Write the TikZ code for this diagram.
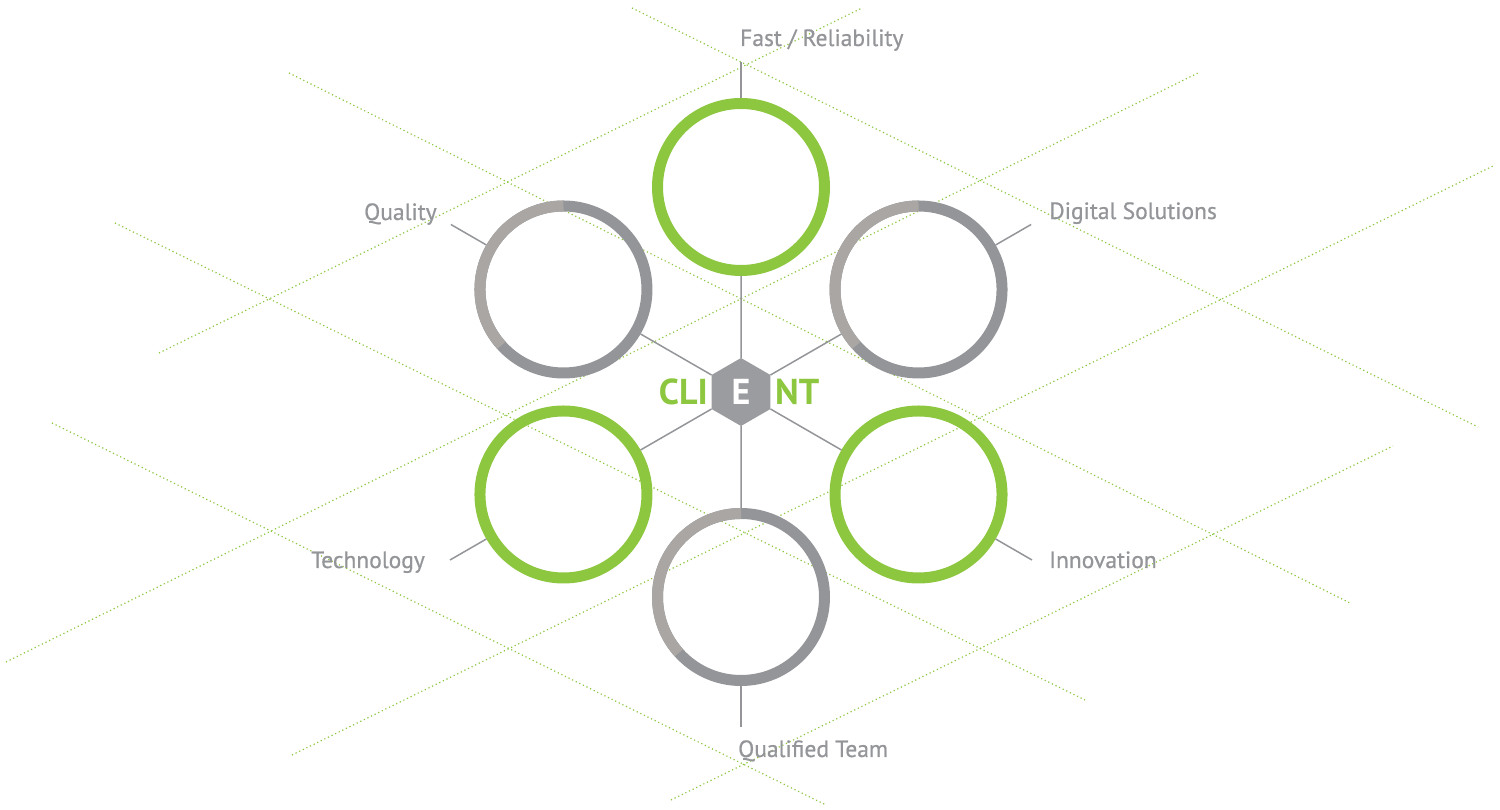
\documentclass[tikz,border=0pt]{standalone}
\usepackage{fontspec}
\setmainfont{PT Sans}
\newfontfamily\labelfont[FakeBold=0.7]{PT Sans}
\usetikzlibrary{positioning, shapes.geometric, calc}

\definecolor{leaf}{HTML}{8DC63F}
\definecolor{steel}{HTML}{939598}
\definecolor{ash}{HTML}{A9A6A4}
\definecolor{hexgray}{HTML}{9B9C9F}

\tikzset{
  ring/.style={circle, draw=#1, line width=11pt, minimum size=167pt, inner sep=0pt, outer sep=0pt},
  spoke/.style={draw=steel, line width=1.5pt},
  dotline/.style={leaf, line width=1.2pt, dash pattern=on 1.2pt off 2.8pt},
  lbl/.style={text=steel, inner sep=0pt, font=\labelfont\fontsize{23.5}{28}\selectfont},
  client/.style={text=leaf, inner sep=0pt, font=\fontsize{36}{40}\selectfont\bfseries},
}

\begin{document}
\begin{tikzpicture}[x=1pt, y=1pt]
\useasboundingbox (0,0) rectangle (1500,810);

% dotted guide lines in the background
\foreach \xa/\ya/\xb/\yb in {632/802/1478/383, 289/737/1350/207, 115/587/1085/110, 52/387/826/5,
                             159/457/862/802, 6/148/1200/738, 292/55/1495/645, 671/10/1393/364}
  \draw[dotline] (\xa,\ya) -- (\xb,\yb);

% centre hexagon
\node[regular polygon, regular polygon sides=6, shape border rotate=30, fill=hexgray,
      minimum size=68pt, inner sep=0pt, outer sep=0pt, client, text=white] (hex) at (741,418) {E};
\node[client, left=3.5pt of hex] (cli) {CLI};
\node[client, right=4.5pt of hex] (nt) {NT};

% rings and spokes
\foreach \ang/\name/\col/\len in {90/fast/leaf/125, 150/quality/steel/130, 30/digital/steel/130,
                                  210/tech/leaf/131, 330/innov/leaf/131, 270/team/steel/130} {
  \node[ring=\col] (\name) at ($(hex)+(\ang:205)$) {};
  \coordinate (\name-tip) at ($(\name)+(\ang:\len)$);
  \draw[spoke, shorten >=5.5pt] (hex) -- (\name);
  \draw[spoke, shorten <=5.5pt] (\name.\ang) -- (\name-tip);
}

% lighter part of the grey rings
\foreach \name in {quality, digital, team}
  \draw[ash, line width=11pt] (\name.90) arc[start angle=90, end angle=222, radius=83.5pt];

% labels
\node[lbl, above right=16pt and -1pt of fast-tip, anchor=base west] (fastlbl) {Fast / Reliability};
\node[lbl, above left=4.5pt and 14pt of quality-tip, anchor=base east] (qualitylbl) {Quality};
\node[lbl, above right=5.5pt and 18pt of digital-tip, anchor=base west] (digitallbl) {Digital Solutions};
\node[lbl, below left=8pt and 25pt of tech-tip, anchor=base east] (techlbl) {Technology};
\node[lbl, below right=8pt and 17pt of innov-tip, anchor=base west] (innovlbl) {Innovation};
\node[lbl, below left=30pt and 3pt of team-tip, anchor=base west] (teamlbl) {Qualified Team};

\end{tikzpicture}
\end{document}
